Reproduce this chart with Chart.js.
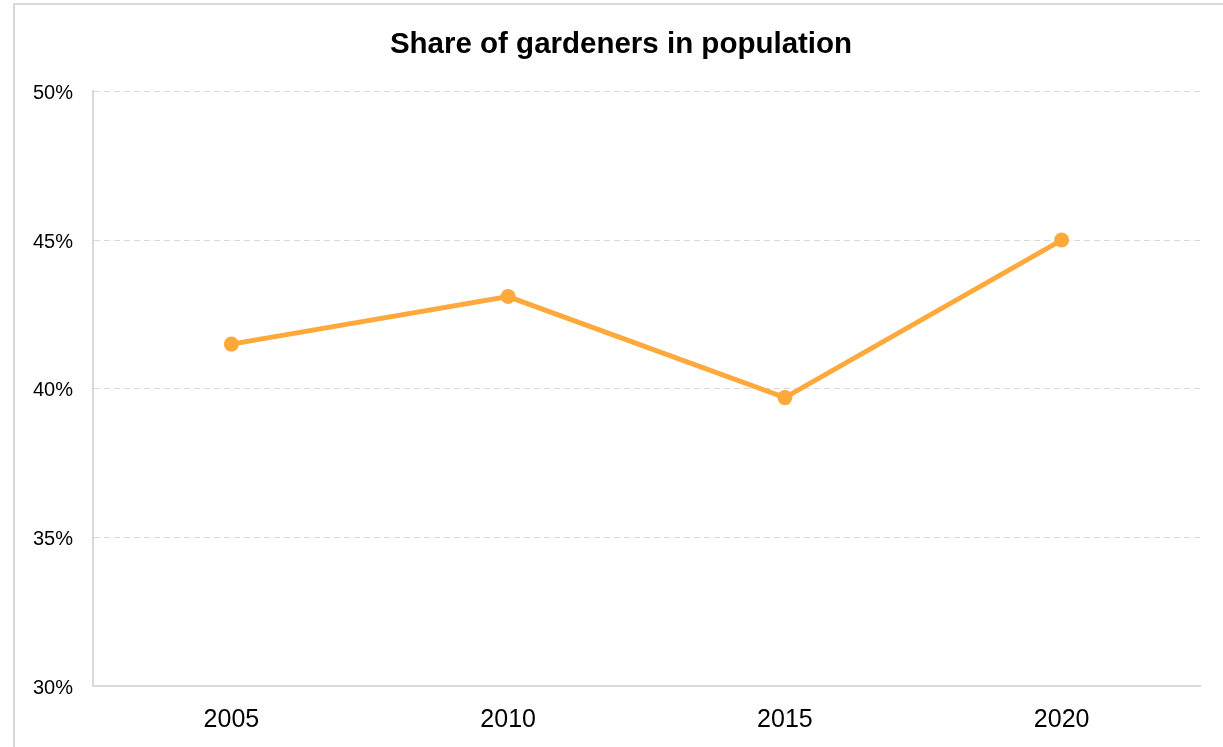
<!DOCTYPE html>
<html lang="en">
<head>
    <meta charset="UTF-8" />
    <title>Share of gardeners in population</title>
    <style>
        html, body {
            margin: 0;
            padding: 0;
            overflow: hidden;
            background: #fff;
        }
        #frame {
            position: absolute;
            left: 13px;
            top: 3px;
            width: 1300px;
            height: 800px;
            border: 2px solid #d9d9d9;
        }
        #chart-container {
            position: absolute;
            left: 0;
            top: 0;
            width: 1223px;
            height: 747px;
        }
    </style>
    <script src="https://cdn.jsdelivr.net/npm/chart.js"></script>
</head>
<body>
<div id="frame"></div>
<div id="chart-container">
    <canvas id="gardenChart" width="1223" height="747"></canvas>
</div>

<script>
  const years = ["2005", "2010", "2015", "2020"];
  const gardenerShare = [41.5, 43.1, 39.7, 45.0];
  const yTicks = [30, 35, 40, 45, 50];

  const fontFamily = "'Liberation Sans', Arial, sans-serif";
  const lineColor = "#FFA83C";
  const gridColor = "#d9d9d9";

  // the original title sits a bit right of the canvas centre
  const shiftTitle = {
    id: "shiftTitle",
    afterLayout(chart) {
      if (chart.titleBlock) {
        chart.titleBlock.left = 42;
      }
    },
  };

  const ctx = document.getElementById("gardenChart").getContext("2d");
  new Chart(ctx, {
    type: "line",
    data: {
      labels: years,
      datasets: [
        {
          label: "Share of gardeners",
          data: gardenerShare,
          borderColor: lineColor,
          backgroundColor: lineColor,
          borderWidth: 5,
          pointRadius: 7.5,
          pointHoverRadius: 7.5,
          pointBorderWidth: 0,
          tension: 0,
        },
      ],
    },
    options: {
      responsive: false,
      animation: false,
      layout: {
        padding: { top: 10, right: 23, bottom: 0, left: 0 },
      },
      scales: {
        x: {
          offset: true,
          afterFit: function (scale) {
            scale.height = 61;
          },
          grid: {
            display: false,
            drawTicks: false,
          },
          border: {
            display: true,
            color: gridColor,
            width: 2,
          },
          ticks: {
            color: "#000",
            padding: 19,
            font: { family: fontFamily, size: 25 },
          },
        },
        y: {
          min: 30,
          max: 50,
          afterFit: function (scale) {
            scale.width = 93;
          },
          afterBuildTicks: function (scale) {
            scale.ticks = yTicks.map((v) => ({ value: v }));
          },
          grid: {
            color: gridColor,
            drawTicks: false,
            lineWidth: 1,
          },
          border: {
            display: true,
            color: gridColor,
            width: 2,
            dash: [6, 4],
          },
          ticks: {
            color: "#000",
            padding: 20,
            labelOffset: 2,
            font: { family: fontFamily, size: 20 },
            callback: function (value) {
              return value + "%";
            },
          },
        },
      },
      plugins: {
        title: {
          display: true,
          text: "Share of gardeners in population",
          color: "#000",
          font: { family: fontFamily, size: 29.5, weight: "bold" },
          padding: { top: 17, bottom: 29 },
        },
        legend: {
          display: false,
        },
        tooltip: {
          enabled: false,
        },
      },
    },
    plugins: [shiftTitle],
  });
</script>
</body>
</html>
